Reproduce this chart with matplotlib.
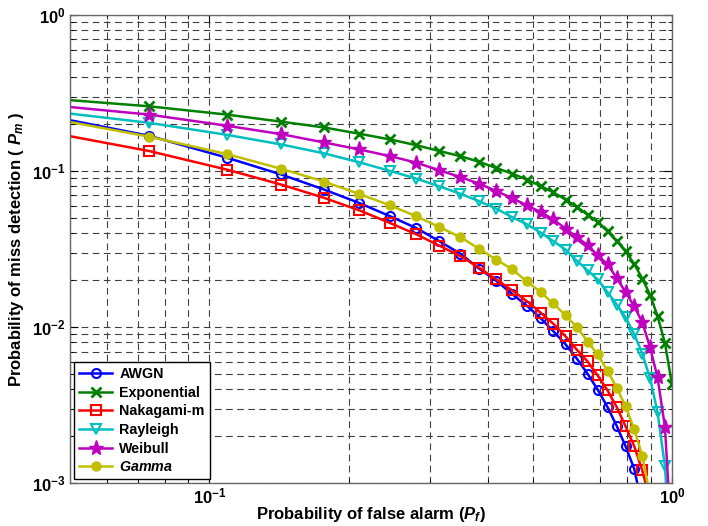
import matplotlib
matplotlib.use('Agg')
import matplotlib.pyplot as plt
from matplotlib.ticker import FixedLocator, NullFormatter

plt.rcParams['font.family'] = ['Liberation Sans', 'DejaVu Sans']
plt.rcParams['font.weight'] = 'bold'
plt.rcParams['mathtext.fontset'] = 'custom'
plt.rcParams['mathtext.rm'] = 'Liberation Sans:bold'
plt.rcParams['mathtext.it'] = 'Liberation Sans:bold:italic'
plt.rcParams['mathtext.bf'] = 'Liberation Sans:bold'

# Probability of false alarm (shared by all curves)
pf = [0.040, 0.074, 0.109, 0.143, 0.177, 0.211, 0.246, 0.280, 0.314, 0.349,
      0.383, 0.417, 0.451, 0.486, 0.520, 0.554, 0.589, 0.623, 0.657, 0.691,
      0.726, 0.760, 0.794, 0.829, 0.863, 0.897, 0.931, 0.966, 1.000]

# Probability of miss detection
pm_awgn = [0.242, 0.169, 0.1224, 0.0954, 0.0764, 0.0626, 0.0515, 0.0433, 0.0357, 0.0296,
           0.0238, 0.0199, 0.0164, 0.01374, 0.01146, 0.00946, 0.00778, 0.00630, 0.00505, 0.00399,
           0.00308, 0.00233, 0.00173, 0.00124, 0.00071, 0.0003]
pm_exp = [0.301, 0.261, 0.231, 0.208, 0.191, 0.174, 0.160, 0.147, 0.135, 0.125,
          0.115, 0.105, 0.0967, 0.0885, 0.0805, 0.0733, 0.0659, 0.0591, 0.0528, 0.0473,
          0.0412, 0.0357, 0.0307, 0.0255, 0.0205, 0.0162, 0.0118, 0.00793, 0.00434]
pm_naka = [0.190, 0.135, 0.1026, 0.0822, 0.0676, 0.0562, 0.0466, 0.0395, 0.0334, 0.0286,
           0.0241, 0.0203, 0.0173, 0.0147, 0.01244, 0.01056, 0.00875, 0.00719, 0.00605, 0.00492,
           0.00394, 0.00308, 0.00232, 0.00173, 0.00121, 0.00078, 0.0003]
pm_ray = [0.253, 0.2046, 0.1714, 0.1486, 0.1304, 0.1142, 0.1005, 0.0898, 0.0801, 0.0718,
          0.0643, 0.0577, 0.0509, 0.0457, 0.0405, 0.0357, 0.0315, 0.0267, 0.0232, 0.0203,
          0.0168, 0.0140, 0.0116, 0.00906, 0.00678, 0.00472, 0.00286, 0.00129, 0.00025]
pm_weib = [0.275, 0.231, 0.196, 0.173, 0.153, 0.138, 0.125, 0.1137, 0.1015, 0.0919,
           0.0833, 0.0748, 0.0674, 0.0605, 0.0548, 0.0492, 0.0429, 0.0379, 0.0336, 0.0290,
           0.0253, 0.0207, 0.0168, 0.01364, 0.01077, 0.00745, 0.00478, 0.00230, 0.000394]
pm_gamma = [0.234, 0.1668, 0.1291, 0.1038, 0.0859, 0.0715, 0.0605, 0.0515, 0.0440, 0.0378,
            0.0319, 0.0272, 0.0236, 0.0197, 0.0168, 0.01422, 0.01194, 0.01005, 0.00811, 0.00671,
            0.00526, 0.00409, 0.00312, 0.00222, 0.00150, 0.00083, 0.0004]

labels = ['AWGN', 'Exponential', 'Nakagami-m', 'Rayleigh', 'Weibull', r'$\mathit{Gamma}$']

fig = plt.figure(figsize=(7.08, 5.26), dpi=100)
ax = fig.add_axes([0.099, 0.081, 0.850, 0.890])

lw = 1.8
ax.plot(pf[:len(pm_awgn)], pm_awgn, '-o', color='#0000ff', lw=lw, ms=6.5,
        mfc='none', mew=1.5, label=labels[0])
ax.plot(pf[:len(pm_exp)], pm_exp, '-x', color='#008000', lw=lw, ms=7,
        mew=2, label=labels[1])
ax.plot(pf[:len(pm_naka)], pm_naka, '-s', color='#ff0000', lw=lw, ms=6.5,
        mfc='none', mew=1.5, label=labels[2])
ax.plot(pf[:len(pm_ray)], pm_ray, '-v', color='#00bfbf', lw=lw, ms=7.5,
        mfc='none', mew=1.5, label=labels[3])
ax.plot(pf[:len(pm_weib)], pm_weib, '-*', color='#bf00bf', lw=lw, ms=11,
        label=labels[4])
ax.plot(pf[:len(pm_gamma)], pm_gamma, '-o', color='#bfbf00', lw=lw, ms=6.5,
        label=labels[5])

ax.set_xscale('log')
ax.set_yscale('log')
ax.set_xlim(0.05, 1)
ax.set_ylim(1e-3, 1)

ax.xaxis.set_major_locator(FixedLocator([0.1, 1]))
ax.set_xticklabels([r'$\mathbf{10^{-1}}$', r'$\mathbf{10^{0}}$'])
ax.xaxis.set_minor_locator(FixedLocator([0.05, 0.06, 0.07, 0.08, 0.09,
                                         0.2, 0.3, 0.4, 0.5, 0.6, 0.7, 0.8, 0.9]))
ax.xaxis.set_minor_formatter(NullFormatter())
ax.yaxis.set_major_locator(FixedLocator([1e-3, 1e-2, 1e-1, 1]))
ax.set_yticklabels([r'$\mathbf{10^{-3}}$', r'$\mathbf{10^{-2}}$',
                    r'$\mathbf{10^{-1}}$', r'$\mathbf{10^{0}}$'])
yminor = [m * 10.0 ** e for e in (-3, -2, -1) for m in range(2, 10)]
ax.yaxis.set_minor_locator(FixedLocator(yminor))
ax.yaxis.set_minor_formatter(NullFormatter())

ax.tick_params(which='both', direction='in', top=True, right=True, labelsize=12)
ax.tick_params(axis='x', pad=2)
ax.tick_params(which='major', length=6)
ax.tick_params(which='minor', length=3)

ax.grid(True, which='both', color='0.25', linestyle=(0, (6, 4)), linewidth=0.8)
for s in ax.spines.values():
    s.set_color('0.4')
    s.set_linewidth(1.0)

ax.set_xlabel(r'Probability of false alarm ($P_f$)', fontsize=12, fontweight='bold',
              labelpad=-1)
ax.set_ylabel(r'Probability of miss detection ( $P_m$ )', fontsize=12, fontweight='bold')

leg = ax.legend(loc='lower left', fontsize=10.3, frameon=True, fancybox=False,
                edgecolor='black', framealpha=1, borderaxespad=0.3,
                handlelength=2.3, handletextpad=0.5, labelspacing=0.32, borderpad=0.35)
leg.get_frame().set_linewidth(1.0)

plt.savefig('out.png', dpi=100)
